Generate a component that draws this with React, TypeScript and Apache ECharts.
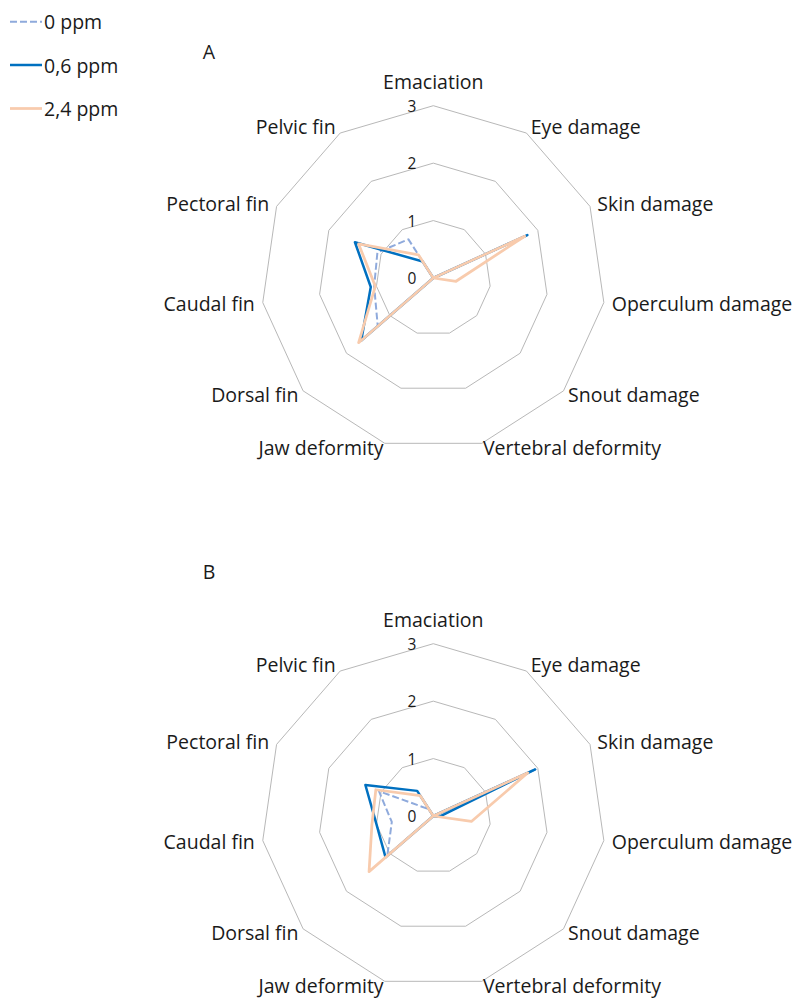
import React, { useEffect, useRef } from "react";
import * as echarts from "echarts";

// Categories in the reference's clockwise order, starting at the top
const categories = [
  "Emaciation",
  "Eye damage",
  "Skin damage",
  "Operculum damage",
  "Snout damage",
  "Vertebral deformity",
  "Jaw deformity",
  "Dorsal fin",
  "Caudal fin",
  "Pectoral fin",
  "Pelvic fin",
];
const seriesNames = ["0 ppm", "0,6 ppm", "2,4 ppm"];
const panelLabels = ["A", "B"];

// Panel A
const aPpm0 = [0, 0, 1.75, 0, 0, 0, 0, 1.28, 1.04, 1.07, 0.8];
const aPpm06 = [0, 0, 1.8, 0, 0, 0, 0, 1.66, 1.1, 1.5, 0.34];
const aPpm24 = [0, 0, 1.75, 0.4, 0, 0, 0, 1.72, 1.02, 1.43, 0.48];
// Panel B
const bPpm0 = [0, 0, 1.95, 0, 0, 0, 0, 1.06, 0.73, 1.04, 0.14];
const bPpm06 = [0, 0, 1.95, 0.1, 0, 0, 0, 1.1, 1.0, 1.3, 0.52];
const bPpm24 = [0, 0, 1.81, 0.67, 0, 0, 0, 1.48, 1.08, 1.1, 0.42];

const axisMin = 0;
const axisMax = 3;
const axisSplits = 3;

const FONT = "Open Sans";
const TEXT = "#1a1a1a";
const COLORS = ["#8faadc", "#0070c0", "#f8cbad"];
const WIDTHS = [2, 2.5, 2.75];
const DASHES: any[] = [[7, 3], "solid", "solid"];

export default function App() {
  const ref = useRef<HTMLDivElement>(null);
  useEffect(() => {
    if (!ref.current) return;
    const chart = echarts.init(ref.current, null, { renderer: "svg" });

    // ECharts places indicators counter-clockwise; the reference runs clockwise
    const n = categories.length;
    const order = categories.map((_, i) => (i === 0 ? 0 : n - i));
    const reorder = (arr: number[]) => order.map((i) => arr[i]);

    const makeIndicators = () =>
      order.map((i, k) => {
        const base: any = { name: categories[i], min: axisMin, max: axisMax };
        if (k === 0) {
          base.axisLabel = { show: true };
          base.nameGap = 14;
        }
        const nm = categories[i];
        if (nm === "Jaw deformity" || nm === "Vertebral deformity") {
          base.nameGap = 4;
        } else if (nm === "Dorsal fin" || nm === "Snout damage") {
          base.nameGap = 6;
        }
        return base;
      });

    const makeRadar = (cy: number) => ({
      center: [433.3, cy],
      radius: 172.3,
      startAngle: 90,
      splitNumber: axisSplits,
      shape: "polygon",
      indicator: makeIndicators(),
      nameGap: 8,
      axisName: { color: TEXT, fontSize: 19.5, fontFamily: FONT },
      axisLine: { show: false },
      axisTick: { show: false },
      axisLabel: {
        show: false,
        color: TEXT,
        fontSize: 15.5,
        fontFamily: FONT,
        margin: 17,
      },
      splitLine: { lineStyle: { color: "#b8b8b8", width: 1 } },
      splitArea: { show: false },
    });

    const panels = [
      [aPpm0, aPpm06, aPpm24],
      [bPpm0, bPpm06, bPpm24],
    ];

    const series: any[] = [];
    panels.forEach((sets, r) => {
      sets.forEach((vals, s) => {
        series.push({
          type: "radar",
          name: seriesNames[s],
          radarIndex: r,
          symbol: "none",
          silent: true,
          z: 2 + s,
          lineStyle: { color: COLORS[s], width: WIDTHS[s], type: DASHES[s] },
          itemStyle: { color: COLORS[s] },
          data: [{ value: reorder(vals), name: seriesNames[s] }],
        });
      });
    });

    const legendY = [21.7, 65, 108.5];
    const graphic: any[] = [];
    seriesNames.forEach((name, i) => {
      graphic.push({
        type: "line",
        shape: { x1: 10, y1: legendY[i], x2: 42, y2: legendY[i] },
        style: {
          stroke: COLORS[i],
          lineWidth: WIDTHS[i],
          lineDash: i === 0 ? [7, 3] : null,
        },
      });
      graphic.push({
        type: "text",
        x: 44,
        y: legendY[i],
        style: {
          text: name,
          fontSize: 19.5,
          fontFamily: FONT,
          fill: TEXT,
          verticalAlign: "middle",
          align: "left",
        },
      });
    });
    const panelY = [51.5, 571.5];
    panelLabels.forEach((p, i) => {
      graphic.push({
        type: "text",
        x: 209,
        y: panelY[i],
        style: {
          text: p,
          fontSize: 19.5,
          fontFamily: FONT,
          fill: TEXT,
          verticalAlign: "middle",
          align: "center",
        },
      });
    });

    chart.setOption({
      animation: false,
      backgroundColor: "#ffffff",
      radar: [makeRadar(278), makeRadar(816)],
      series,
      graphic,
    });

    return () => chart.dispose();
  }, []);

  return (
    <div
      ref={ref}
      style={{ position: "fixed", left: 0, top: 0, width: 797, height: 998 }}
    />
  );
}
